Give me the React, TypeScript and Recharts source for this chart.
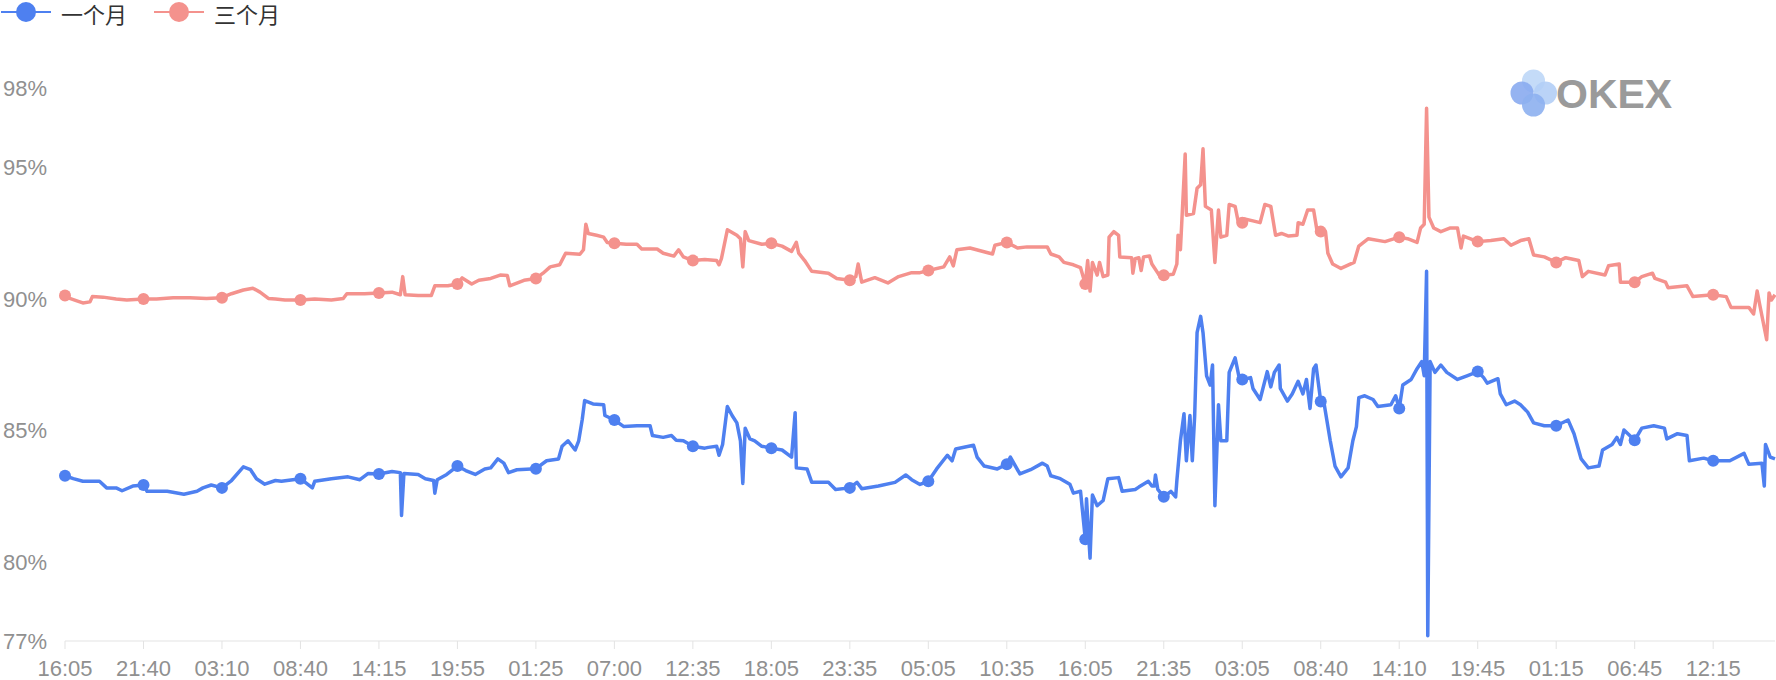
import React from 'react';
import { LineChart, Line, XAxis, YAxis } from 'recharts';

const xLabels = ['16:05','21:40','03:10','08:40','14:15','19:55','01:25','07:00','12:35','18:05','23:35','05:05','10:35','16:05','21:35','03:05','08:40','14:10','19:45','01:15','06:45','12:15'];
const stepsPerLabel = 66;
const lastStep = 1438;
const yTicks = [77, 80, 85, 90, 95, 98];

// 一个月 (one month): [5-minute step index, value %]
const oneMonthT = [0,7,15,29,35,43,48,57,66,69,86,100,111,116,123,132,140,150,156,161,168,177,182,198,208,210,224,238,248,255,264,275,282,283,285,297,303,310,311,313,321,330,337,345,353,358,364,369,373,380,396,405,415,418,423,429,432,435,437,444,453,454,462,470,481,492,494,503,510,514,520,528,538,541,548,550,553,557,561,565,568,570,572,576,580,586,594,603,611,614,615,624,628,642,648,660,666,670,684,698,707,712,719,726,733,742,746,749,764,767,773,784,792,795,803,812,822,826,829,837,845,848,854,858,859,862,864,868,873,877,886,889,900,903,911,914,916,917,919,924,930,934,935,938,941,943,946,948,950,952,955,957,960,963,965,967,970,972,977,979,984,987,990,997,999,1005,1011,1014,1017,1021,1022,1028,1032,1037,1041,1044,1047,1050,1052,1056,1058,1061,1064,1068,1073,1079,1083,1086,1088,1093,1100,1104,1115,1119,1122,1125,1132,1137,1141,1143,1145,1146,1148,1152,1157,1162,1171,1179,1188,1193,1196,1205,1207,1212,1219,1224,1230,1235,1244,1254,1264,1269,1275,1281,1290,1293,1301,1305,1308,1311,1320,1326,1336,1345,1347,1356,1364,1366,1378,1386,1400,1412,1416,1427,1429,1430,1434,1438];
const oneMonthV = [83.28,83.17,83.07,83.07,82.82,82.82,82.71,82.89,82.93,82.69,82.69,82.58,82.69,82.82,82.93,82.82,83.1,83.62,83.51,83.17,82.96,83.1,83.07,83.17,82.82,83.07,83.17,83.24,83.13,83.37,83.35,83.44,83.4,81.77,83.37,83.33,83.17,83.1,82.62,83.13,83.33,83.65,83.48,83.33,83.54,83.58,83.92,83.76,83.4,83.51,83.55,83.85,83.92,84.4,84.61,84.26,84.61,85.43,86.14,86.01,85.98,85.57,85.4,85.15,85.18,85.18,84.81,84.74,84.81,84.63,84.61,84.4,84.33,84.36,84.4,84.06,84.47,85.91,85.57,85.29,84.61,82.99,85.09,84.68,84.61,84.4,84.33,84.26,83.99,85.68,83.58,83.54,83.03,83.03,82.76,82.82,83.03,82.79,82.89,83.03,83.31,83.13,82.95,83.07,83.54,84.06,83.85,84.3,84.44,83.99,83.65,83.54,83.72,83.99,83.35,83.51,83.76,83.65,83.28,83.17,82.96,82.62,82.69,80.87,82.41,80.15,82.55,82.14,82.34,83.17,83.21,82.69,82.76,82.85,83.07,82.89,82.89,83.31,82.76,82.48,82.69,82.48,83.1,84.61,85.64,83.85,85.57,83.85,85.57,88.72,89.34,88.72,87.08,86.73,87.49,82.14,85.98,84.61,84.61,87.21,87.76,87.1,86.94,87.01,86.6,86.18,87.24,86.66,87.21,87.49,86.6,86.12,86.39,86.87,86.39,86.94,85.84,87.35,87.49,86.1,86.25,85.43,84.61,83.65,83.24,83.58,84.61,85.15,86.25,86.32,86.18,85.91,85.98,86.32,85.84,86.73,86.94,87.35,87.62,87.08,91.05,77.2,87.62,87.21,87.49,87.21,86.94,87.08,87.24,87.01,86.8,86.97,86.39,85.98,86.12,85.98,85.7,85.29,85.18,85.18,85.4,84.88,83.92,83.58,83.65,84.26,84.47,84.74,84.47,85.02,84.63,85.09,85.18,85.09,84.68,84.88,84.81,83.85,83.95,83.85,83.85,84.13,83.72,83.76,82.89,84.47,83.99,83.92];

// 三个月 (three months): [5-minute step index, value %]
const threeMonthT = [0,4,10,15,21,23,32,43,52,66,77,91,105,119,132,140,150,158,164,171,177,185,198,210,224,234,237,252,264,275,282,284,286,297,308,311,322,330,334,342,348,358,366,372,374,386,396,402,408,416,421,433,436,438,440,447,453,456,462,472,481,485,498,503,512,516,520,528,538,548,550,552,557,565,568,570,572,575,586,594,603,611,615,617,622,628,642,649,660,665,667,670,681,692,701,712,719,726,739,744,747,750,761,780,782,792,801,809,826,829,836,840,848,854,858,860,862,864,868,870,873,877,878,882,886,887,897,898,900,903,905,907,912,914,921,924,932,935,936,938,942,943,949,952,955,957,959,964,967,970,972,977,979,984,987,990,992,999,1005,1009,1014,1018,1023,1029,1036,1037,1041,1045,1050,1053,1056,1060,1062,1066,1073,1084,1088,1096,1110,1122,1129,1137,1140,1143,1145,1147,1151,1157,1165,1171,1174,1176,1188,1199,1210,1216,1224,1231,1235,1244,1254,1262,1273,1276,1281,1295,1298,1307,1308,1320,1326,1335,1337,1346,1348,1364,1369,1386,1397,1401,1416,1420,1423,1425,1431,1433,1435,1438];
const threeMonthV = [90.13,90.02,89.93,89.85,89.89,90.09,90.07,90.0,89.96,90.0,90.0,90.05,90.05,90.02,90.05,90.2,90.34,90.41,90.26,90.02,90.0,89.96,89.96,90.0,89.96,90.02,90.2,90.2,90.23,90.26,90.16,90.85,90.16,90.13,90.13,90.5,90.5,90.57,90.8,90.57,90.71,90.78,90.91,90.89,90.5,90.71,90.78,90.98,91.22,91.3,91.74,91.7,91.87,92.84,92.49,92.42,92.35,92.15,92.12,92.08,92.08,91.9,91.9,91.74,91.63,91.87,91.6,91.46,91.5,91.46,91.3,91.53,92.63,92.42,92.29,91.22,92.56,92.22,92.08,92.12,92.01,91.81,92.15,91.74,91.46,91.05,90.98,90.78,90.71,90.85,91.33,90.64,90.81,90.61,90.85,91.0,91.0,91.08,91.22,91.6,91.26,91.87,91.94,91.71,92.04,92.15,91.94,91.98,91.98,91.71,91.6,91.39,91.3,91.19,90.57,91.46,90.3,91.39,90.91,91.39,90.85,90.91,92.35,92.56,92.42,91.6,91.57,90.98,91.53,91.57,91.08,91.6,91.63,91.33,90.85,90.9,90.94,91.33,92.42,91.87,95.51,93.18,93.25,94.21,94.34,95.71,93.52,93.38,91.39,93.38,92.35,92.42,93.59,93.52,92.84,92.9,93.04,92.97,92.9,93.59,93.52,92.42,92.49,92.39,92.42,92.9,92.84,93.38,93.38,92.56,92.56,92.56,91.74,91.33,91.16,91.39,92.01,92.29,92.18,92.35,92.29,92.15,92.7,92.84,97.25,93.11,92.7,92.56,92.7,92.7,91.94,92.39,92.18,92.22,92.29,92.04,92.22,92.29,91.67,91.6,91.39,91.57,91.46,90.85,91.05,90.91,91.26,91.33,90.64,90.64,90.85,90.98,90.78,90.64,90.43,90.5,90.09,90.16,90.09,89.68,89.68,89.43,90.3,89.82,88.45,90.23,89.96,90.16];

const BLUE = '#4e80f0';
const RED = '#f4928d';
const AXIS_TEXT = '#909090';
const FONT = '"Liberation Sans", Helvetica, Arial, sans-serif';
const CJK = '"Noto Sans CJK SC", sans-serif';

const oneMonthData = oneMonthT.map((x, i) => ({ x, v: oneMonthV[i] }));
const threeMonthData = threeMonthT.map((x, i) => ({ x, v: threeMonthV[i] }));
const xTicks = xLabels.map((_, i) => i * stepsPerLabel);

const makeDot = (color: string) => (props: any) => {
  const { cx, cy, payload, index } = props;
  if (payload && payload.x % stepsPerLabel === 0) {
    return <circle key={`dot-${color}-${index}`} cx={cx} cy={cy} r={6} fill={color} stroke="none" />;
  }
  return <g key={`nodot-${color}-${index}`} />;
};

function LegendBar() {
  const item = (left: number, color: string, label: string) => (
    <div style={{ position: 'absolute', left, top: 0, height: 26, display: 'flex', alignItems: 'center' }}>
      <svg width={50} height={26} style={{ display: 'block' }}>
        <line x1={0} x2={50} y1={12} y2={12} stroke={color} strokeWidth={2} />
        <circle cx={25} cy={12} r={10} fill={color} />
      </svg>
      <span style={{ marginLeft: 10, fontSize: 22, lineHeight: '26px', color: '#333', fontFamily: CJK, whiteSpace: 'nowrap' }}>{label}</span>
    </div>
  );
  return (
    <div style={{ position: 'absolute', left: 0, top: 0, width: 320, height: 30 }}>
      {item(1, BLUE, '一个月')}
      {item(154, RED, '三个月')}
    </div>
  );
}

function Watermark() {
  return (
    <svg width={200} height={60} style={{ position: 'absolute', left: 1500, top: 65 }} viewBox="1500 65 200 60">
      <circle cx={1533.5} cy={81} r={11.5} fill="#c4dbf8" />
      <circle cx={1545.5} cy={93} r={11.5} fill="#b3cef6" fillOpacity={0.9} />
      <circle cx={1522} cy={93} r={11.5} fill="#8aabf0" fillOpacity={0.9} />
      <circle cx={1533.5} cy={105} r={11.5} fill="#8db0f0" fillOpacity={0.9} />
      <text x={1556} y={108} fontSize={41} fontWeight="bold" fill="#9a9a9a" fontFamily={FONT}>OKEX</text>
    </svg>
  );
}

export default function App() {
  return (
    <div style={{ position: 'absolute', left: 0, top: 0, width: 1776, height: 680, background: '#fff' }}>
      <LineChart
        width={1776}
        height={680}
        margin={{ top: 88.5, right: 1, left: 0, bottom: 9 }}
      >
        <XAxis
          dataKey="x"
          type="number"
          domain={[0, lastStep]}
          ticks={xTicks}
          interval={0}
          allowDuplicatedCategory={false}
          tickFormatter={(v: number) => xLabels[Math.round(v / stepsPerLabel)] ?? ''}
          axisLine={{ stroke: '#e3e3e3' }}
          tickLine={{ stroke: '#e3e3e3' }}
          tickSize={8}
          tickMargin={11}
          height={30}
          tick={{ fill: AXIS_TEXT, fontSize: 22, fontFamily: FONT }}
        />
        <YAxis
          type="number"
          domain={[77, 98]}
          ticks={yTicks}
          interval={0}
          allowDataOverflow
          width={65}
          axisLine={false}
          tickLine={false}
          tickSize={0}
          tickMargin={18}
          tickFormatter={(v: number) => `${v}%`}
          tick={{ fill: AXIS_TEXT, fontSize: 22, fontFamily: FONT }}
        />
        <Line
          data={oneMonthData}
          dataKey="v"
          name="一个月"
          type="linear"
          stroke={BLUE}
          strokeWidth={3.5}
          strokeLinejoin="round"
          dot={makeDot(BLUE)}
          activeDot={false}
          isAnimationActive={false}
        />
        <Line
          data={threeMonthData}
          dataKey="v"
          name="三个月"
          type="linear"
          stroke={RED}
          strokeWidth={3.5}
          strokeLinejoin="round"
          dot={makeDot(RED)}
          activeDot={false}
          isAnimationActive={false}
        />
      </LineChart>
      <LegendBar />
      <Watermark />
    </div>
  );
}
